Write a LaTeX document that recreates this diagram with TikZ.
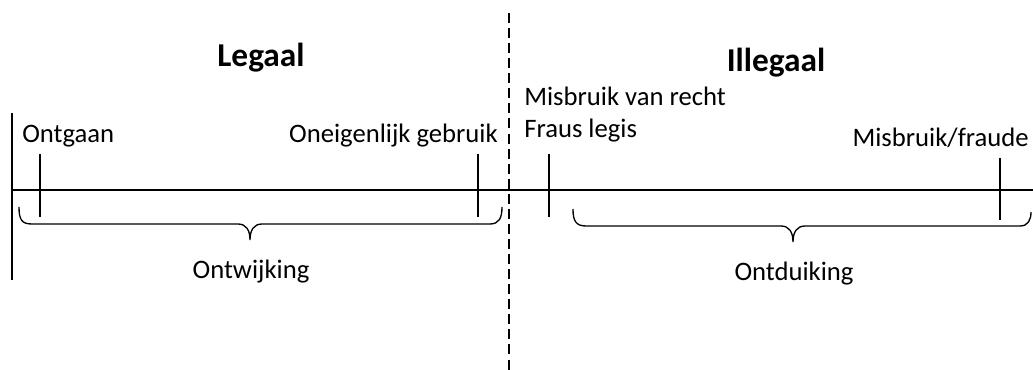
\documentclass[tikz,border=0pt]{standalone}
\usepackage{fontspec}
\setmainfont{Carlito}
\begin{document}
\begin{tikzpicture}[x=0.75pt,y=-0.75pt,
  lbl/.style={inner sep=0pt,font=\fontsize{20}{24}\selectfont},
  head/.style={inner sep=0pt,font=\fontsize{25}{30}\selectfont\bfseries},
  axis/.style={line width=1.9pt},
  tick/.style={line width=1pt},
  bracket/.style={line width=1pt},
  divider/.style={line width=1.2pt,dash pattern=on 7.5pt off 3.8pt}]
\useasboundingbox (0,0) rectangle (1033,370);

% headings
\node[head,anchor=base] (legaal) at (261,67) {Legaal};
\node[head,anchor=base] (illegaal) at (776,72) {Illegaal};

% dividing line between legal and illegal
\coordinate (divtop) at (509,13);
\coordinate (divbot) at (509,370);
\draw[divider] (divtop) -- (divbot);

% main axis and its left boundary
\coordinate (axl) at (12,190);
\coordinate (axr) at (1033,190);
\draw[axis] (axl) -- (axr);
\coordinate (bndtop) at (12,113);
\coordinate (bndbot) at (12,280);
\draw[tick] (bndtop) -- (bndbot);

% ticks on the axis
\coordinate (t1a) at (40,154);  \coordinate (t1b) at (40,217);
\coordinate (t2a) at (478,154); \coordinate (t2b) at (478,217);
\coordinate (t3a) at (549,154); \coordinate (t3b) at (549,217);
\coordinate (t4a) at (1000,158); \coordinate (t4b) at (1000,220);
\draw[tick] (t1a) -- (t1b);
\draw[tick] (t2a) -- (t2b);
\draw[tick] (t3a) -- (t3b);
\draw[tick] (t4a) -- (t4b);

% tick labels
\node[lbl,anchor=base west] (ontgaan) at (22,143) {Ontgaan};
\node[lbl,anchor=base east] (oneigen) at (498,143) {Oneigenlijk gebruik};
\node[lbl,anchor=base west] (misbruikrecht) at (524,106) {Misbruik van recht};
\node[lbl,anchor=base west] (fraus) at (524,138) {Fraus legis};
\node[lbl,anchor=base east] (fraude) at (1029,147) {Misbruik/fraude};

% braces under the axis
\draw[bracket] (19,207) .. controls (19,220) and (22,224) .. (32,224)
  -- (238,224) .. controls (246,224) and (250,230) .. (250,240)
  .. controls (250,230) and (254,224) .. (262,224)
  -- (490,224) .. controls (499,224) and (502,218) .. (502,207);
\draw[bracket] (573,209) .. controls (573,221) and (576,226) .. (586,226)
  -- (781,226) .. controls (789,226) and (793,232) .. (793,242)
  .. controls (793,232) and (797,226) .. (805,226)
  -- (1020,226) .. controls (1028,226) and (1031,220) .. (1031,212);

% brace labels
\node[lbl,anchor=base] (ontwijking) at (251,279) {Ontwijking};
\node[lbl,anchor=base] (ontduiking) at (794,281) {Ontduiking};
\end{tikzpicture}
\end{document}
